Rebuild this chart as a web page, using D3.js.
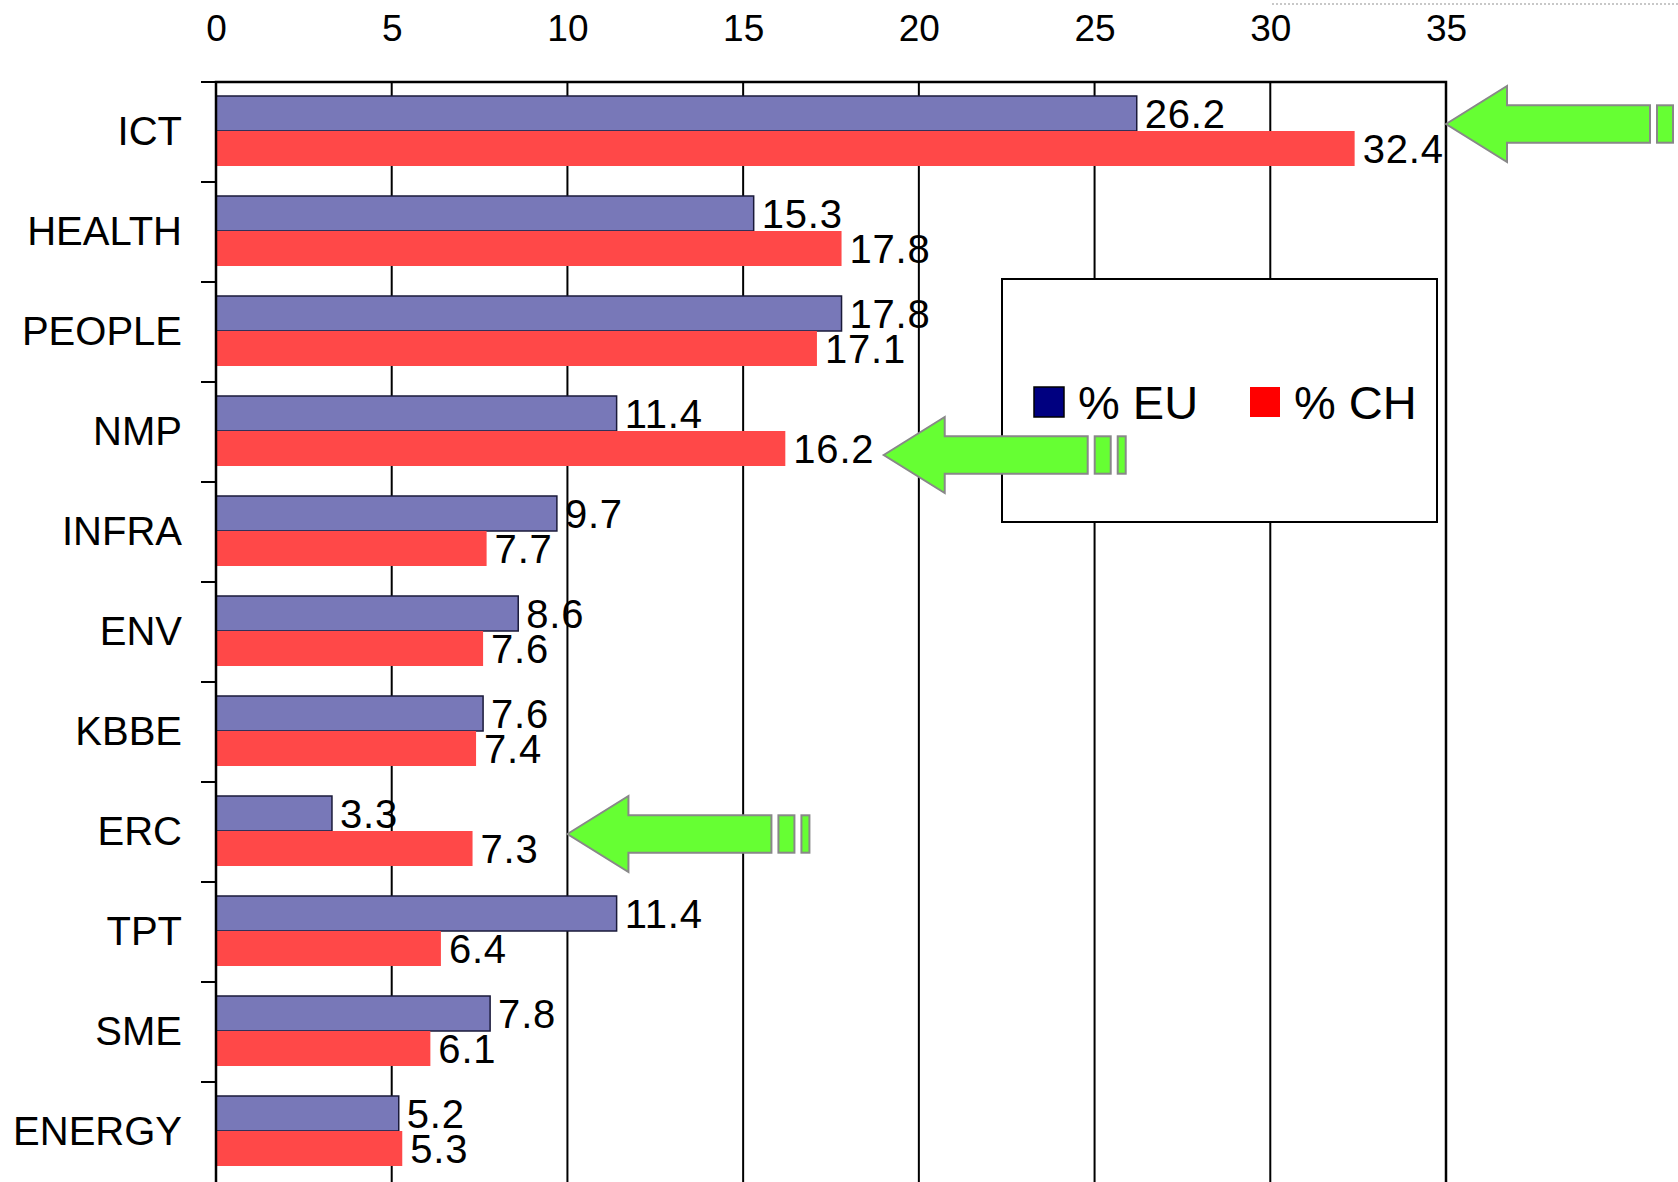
<!DOCTYPE html>
<html>
<head>
<meta charset="utf-8">
<script src="https://cdn.jsdelivr.net/npm/d3@7"></script>
<style>
  body { margin: 0; background: #fff; }
  text { font-family: "Liberation Sans", Arial, sans-serif; fill: #000; }
</style>
</head>
<body>
<div id="chart"></div>
<script>
// ============
// Data
// ============
var categories = ["ICT", "HEALTH", "PEOPLE", "NMP", "INFRA", "ENV", "KBBE", "ERC", "TPT", "SME", "ENERGY"];
var euValues = [26.2, 15.3, 17.8, 11.4, 9.7, 8.6, 7.6, 3.3, 11.4, 7.8, 5.2];
var chValues = [32.4, 17.8, 17.1, 16.2, 7.7, 7.6, 7.4, 7.3, 6.4, 6.1, 5.3];
var xTicks = [0, 5, 10, 15, 20, 25, 30, 35];
var seriesNames = ["% EU", "% CH"];

// arrows pointing at highlighted categories (tip value on the x axis)
var arrowCats = ["ICT", "NMP", "ERC"];
var arrowTips = [35, 19, 10];
var arrowOffsets = [0.42, 0.73, 0.52];   // share of the band height

// ============
// Set up of the svg
// ============
var svgWidth = 1678;
var svgHeight = 1182;

var margin = { top: 82, left: 216 };
var width = 1230;
var height = 1100;

var svg = d3.select("#chart")
  .append("svg")
  .attr("width", svgWidth)
  .attr("height", svgHeight);

svg.append("rect")
  .attr("width", svgWidth)
  .attr("height", svgHeight)
  .attr("fill", "#fff");

var chartGroup = svg.append("g")
  .attr("transform", `translate(${margin.left}, ${margin.top})`);

// scales
var xLinearScale = d3.scaleLinear()
  .domain([0, 35])
  .range([0, width]);

var yBand = d3.scaleBand()
  .domain(categories)
  .range([0, height]);

var ySeries = d3.scaleBand()
  .domain(["eu", "ch"])
  .range([yBand.bandwidth() * 0.14, yBand.bandwidth() * 0.84]);

var rows = categories.map((c, i) => ({ cat: c, eu: euValues[i], ch: chValues[i] }));

// gridlines
chartGroup.selectAll(".grid")
  .data(xTicks.slice(1, -1))
  .enter()
  .append("line")
  .attr("x1", d => xLinearScale(d))
  .attr("x2", d => xLinearScale(d))
  .attr("y1", 0)
  .attr("y2", height)
  .attr("stroke", "#000")
  .attr("stroke-width", 2);

// top axis labels
var topAxis = d3.axisTop(xLinearScale)
  .tickValues(xTicks)
  .tickSize(0)
  .tickPadding(41);

var xAxis = chartGroup.append("g")
  .call(topAxis);
xAxis.select(".domain").remove();
xAxis.selectAll("text")
  .style("font-size", "37px")
  .style("font-family", "Liberation Sans, Arial, sans-serif");

// bars
var barGroups = chartGroup.selectAll(".row")
  .data(rows)
  .enter()
  .append("g")
  .attr("transform", d => `translate(0, ${yBand(d.cat)})`);

barGroups.append("rect")
  .attr("x", 0)
  .attr("y", ySeries("eu"))
  .attr("width", d => xLinearScale(d.eu))
  .attr("height", ySeries.bandwidth())
  .attr("fill", "#7878B8")
  .attr("stroke", "#1a1a3a")
  .attr("stroke-width", 1.5);

barGroups.append("rect")
  .attr("x", 0)
  .attr("y", ySeries("ch"))
  .attr("width", d => xLinearScale(d.ch))
  .attr("height", ySeries.bandwidth())
  .attr("fill", "#FF4848");

// value labels
barGroups.append("text")
  .attr("x", d => xLinearScale(d.eu) + 8)
  .attr("y", ySeries("eu") + ySeries.bandwidth() / 2)
  .attr("dy", "0.36em")
  .style("font-size", "40px")
  .style("letter-spacing", "0.8px")
  .text(d => d.eu.toFixed(1));

barGroups.append("text")
  .attr("x", d => xLinearScale(d.ch) + 8)
  .attr("y", ySeries("ch") + ySeries.bandwidth() / 2)
  .attr("dy", "0.36em")
  .style("font-size", "40px")
  .style("letter-spacing", "0.8px")
  .text(d => d.ch.toFixed(1));

// left axis with category names
var leftAxis = d3.axisLeft(yBand)
  .tickSize(0)
  .tickPadding(34);

var yAxis = chartGroup.append("g")
  .call(leftAxis);
yAxis.select(".domain").remove();
yAxis.selectAll("text")
  .style("font-size", "40px")
  .style("font-family", "Liberation Sans, Arial, sans-serif");

// small ticks between categories
chartGroup.selectAll(".ytick")
  .data(categories)
  .enter()
  .append("line")
  .attr("x1", -15)
  .attr("x2", 0)
  .attr("y1", d => yBand(d))
  .attr("y2", d => yBand(d))
  .attr("stroke", "#000")
  .attr("stroke-width", 2);

// plot frame
chartGroup.append("path")
  .attr("d", `M0,${height}V0H${width}V${height}`)
  .attr("fill", "none")
  .attr("stroke", "#000")
  .attr("stroke-width", 2.5);

// ============
// Legend
// ============
var legend = svg.append("g")
  .attr("transform", "translate(1002, 279)");

legend.append("rect")
  .attr("width", 435)
  .attr("height", 243)
  .attr("fill", "#fff")
  .attr("stroke", "#000")
  .attr("stroke-width", 2);

var legendColors = ["#000080", "#FF0000"];
var legendItems = legend.selectAll(".item")
  .data(seriesNames)
  .enter()
  .append("g")
  .attr("transform", (d, i) => `translate(${32 + i * 216}, 108)`);

legendItems.append("rect")
  .attr("width", 30)
  .attr("height", 30)
  .attr("fill", (d, i) => legendColors[i])
  .attr("stroke", (d, i) => i === 0 ? "#000" : "none")
  .attr("stroke-width", 1.5);

legendItems.append("text")
  .attr("x", 44)
  .attr("y", 15)
  .attr("dy", "0.36em")
  .style("font-size", "47px")
  .text(d => d);

// ============
// Green arrows
// ============
function arrowPath(tx, ty) {
  var headLen = 61, headH = 38, shaftH = 18.7, len = 204;
  return `M${tx},${ty}L${tx + headLen},${ty - headH}V${ty - shaftH}H${tx + len}` +
    `V${ty + shaftH}H${tx + headLen}V${ty + headH}Z`;
}

arrowCats.forEach(function(cat, i) {
  var tx = margin.left + xLinearScale(arrowTips[i]);
  var ty = margin.top + yBand(cat) + yBand.bandwidth() * arrowOffsets[i];
  var g = svg.append("g")
    .attr("fill", "#66FF33")
    .attr("stroke", "#888")
    .attr("stroke-width", 2);
  g.append("path").attr("d", arrowPath(tx, ty));
  g.append("rect")
    .attr("x", tx + 211).attr("y", ty - 18.7)
    .attr("width", 16).attr("height", 37.4);
  g.append("rect")
    .attr("x", tx + 234).attr("y", ty - 18.7)
    .attr("width", 8).attr("height", 37.4);
});

// faint cut-off text line at the very top right
svg.append("line")
  .attr("x1", 1272).attr("x2", 1678)
  .attr("y1", 4).attr("y2", 4)
  .attr("stroke", "#c8c8c8")
  .attr("stroke-width", 2)
  .attr("stroke-dasharray", "2,2");
</script>
</body>
</html>
